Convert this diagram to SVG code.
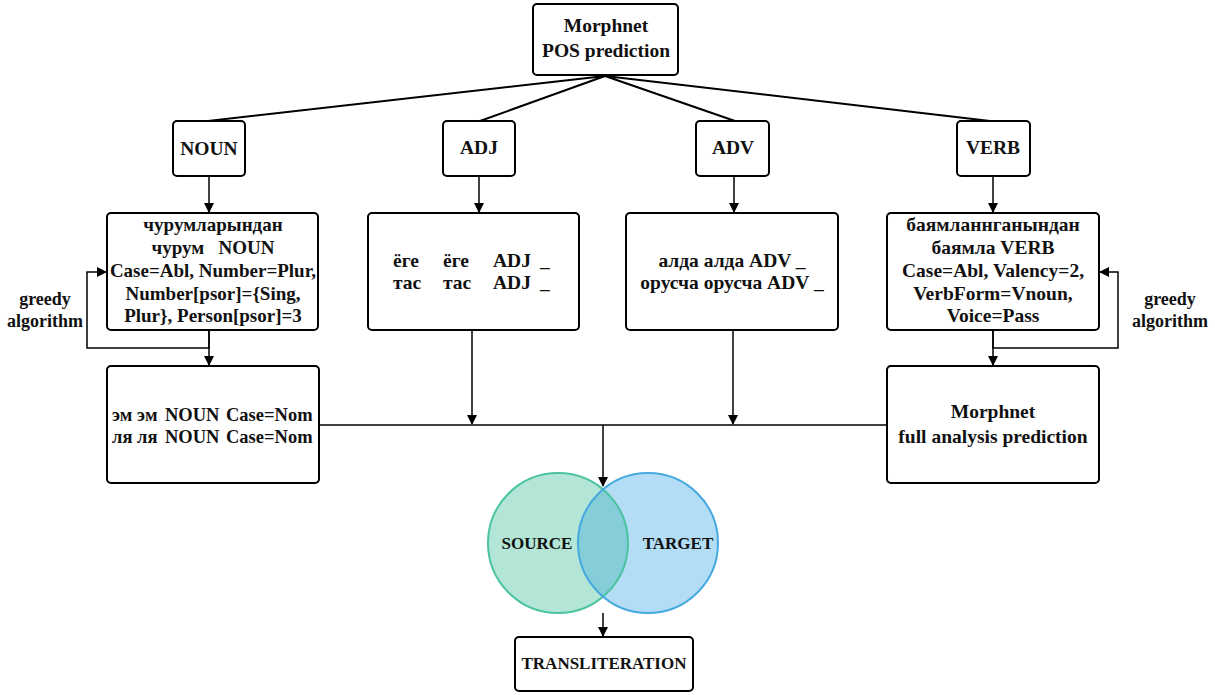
<svg xmlns="http://www.w3.org/2000/svg" width="1215" height="695" viewBox="0 0 1215 695">
<style>
.box{fill:#fff;stroke:#000;stroke-width:2}
.t{font-family:"Liberation Serif",serif;font-weight:bold;font-size:19.5px;fill:#111}
.c{text-anchor:middle}
.s{font-size:17px}
.g{font-size:18px}
.m{font-size:19px}
.n{font-size:18.5px}
.ln{fill:none;stroke:#000;stroke-width:2}
.lt{fill:none;stroke:#000;stroke-width:1.5}
</style>
<defs>
<marker id="ah" markerWidth="10" markerHeight="10" refX="9" refY="5" orient="auto" markerUnits="userSpaceOnUse">
<path d="M0,0 L10,5 L0,10 z" fill="#000"/>
</marker>
<clipPath id="srcClip"><circle cx="558" cy="543" r="70"/></clipPath>
</defs>
<rect width="1215" height="695" fill="#fff"/>

<g id="connectors">
<path class="ln" d="M605,76 L208,121 M605,76 L480,121 M605,76 L735,121 M605,76 L990,121"/>
<path class="lt" d="M209,176 V212" marker-end="url(#ah)"/>
<path class="lt" d="M479,176 V212" marker-end="url(#ah)"/>
<path class="lt" d="M734,176 V212" marker-end="url(#ah)"/>
<path class="lt" d="M993,176 V212" marker-end="url(#ah)"/>
<path class="lt" d="M209,330 V365" marker-end="url(#ah)"/>
<path class="lt" d="M209,330 V348 H87 V272 H106" marker-end="url(#ah)"/>
<path class="lt" d="M993,330 V365" marker-end="url(#ah)"/>
<path class="lt" d="M993,330 V348 H1118 V272 H1100" marker-end="url(#ah)"/>
<path class="lt" d="M319,425 H887"/>
<path class="lt" d="M472,330 V424" marker-end="url(#ah)"/>
<path class="lt" d="M733,330 V424" marker-end="url(#ah)"/>
<path class="lt" d="M603,425 V486" marker-end="url(#ah)"/>
<path class="lt" d="M603,613 V636" marker-end="url(#ah)"/>
</g>

<g id="pos">
<rect class="box" x="533" y="4" width="145" height="71" rx="4"/>
<text class="t c" x="606" y="32">Morphnet</text>
<text class="t c" x="606" y="57">POS prediction</text>
</g>

<g id="noun"><rect class="box" x="173" y="121" width="72" height="55" rx="4"/><text class="t c" x="209" y="155">NOUN</text></g>
<g id="adj"><rect class="box" x="443" y="121" width="72" height="55" rx="4"/><text class="t c" x="479" y="154">ADJ</text></g>
<g id="adv"><rect class="box" x="696" y="121" width="73" height="55" rx="4"/><text class="t c" x="733" y="154">ADV</text></g>
<g id="verb"><rect class="box" x="957" y="121" width="73" height="55" rx="4"/><text class="t c" x="993" y="154">VERB</text></g>

<g id="noun-detail">
<rect class="box" x="107" y="213" width="211" height="117" rx="4"/>
<text class="t c m" x="213" y="231">чурумларындан</text>
<text class="t c m" x="213" y="254" xml:space="preserve">чурум   NOUN</text>
<text class="t c m" x="213" y="277">Case=Abl, Number=Plur,</text>
<text class="t c m" x="213" y="300">Number[psor]={Sing,</text>
<text class="t c m" x="213" y="322">Plur}, Person[psor]=3</text>
</g>

<g id="adj-detail">
<rect class="box" x="368" y="213" width="211" height="117" rx="4"/>
<text class="t" y="267"><tspan x="393">ёге</tspan><tspan x="443">ёге</tspan><tspan x="493">ADJ</tspan><tspan x="540">_</tspan></text>
<text class="t" y="289"><tspan x="393">тас</tspan><tspan x="443">тас</tspan><tspan x="493">ADJ</tspan><tspan x="540">_</tspan></text>
</g>

<g id="adv-detail">
<rect class="box" x="626" y="213" width="212" height="117" rx="4"/>
<text class="t c" x="732" y="267">алда алда ADV _</text>
<text class="t c" x="732" y="289">орусча орусча ADV _</text>
</g>

<g id="verb-detail">
<rect class="box" x="887" y="213" width="212" height="117" rx="4"/>
<text class="t c" x="993" y="231">баямланнганындан</text>
<text class="t c" x="993" y="254">баямла VERB</text>
<text class="t c" x="993" y="277">Case=Abl, Valency=2,</text>
<text class="t c" x="993" y="300">VerbForm=Vnoun,</text>
<text class="t c" x="993" y="322">Voice=Pass</text>
</g>

<g id="greedy-left">
<text class="t c g" x="45" y="305">greedy</text>
<text class="t c g" x="45" y="327">algorithm</text>
</g>
<g id="greedy-right">
<text class="t c g" x="1170" y="305">greedy</text>
<text class="t c g" x="1170" y="327">algorithm</text>
</g>

<g id="noun-lemma">
<rect class="box" x="107" y="366" width="212" height="117" rx="4"/>
<text class="t n" y="421"><tspan x="112">эм эм</tspan><tspan x="165">NOUN</tspan><tspan x="226">Case=Nom</tspan></text>
<text class="t n" y="443"><tspan x="112">ля ля</tspan><tspan x="165">NOUN</tspan><tspan x="226">Case=Nom</tspan></text>
</g>

<g id="full-analysis">
<rect class="box" x="887" y="366" width="212" height="117" rx="4"/>
<text class="t c" x="993" y="418">Morphnet</text>
<text class="t c" x="993" y="443">full analysis prediction</text>
</g>

<g id="venn">
<circle cx="558" cy="543" r="70" fill="#b3e6d6"/>
<circle cx="648" cy="543" r="70" fill="#b3dcf5"/>
<circle cx="648" cy="543" r="70" fill="#85cdd8" clip-path="url(#srcClip)"/>
<circle cx="558" cy="543" r="70" fill="none" stroke="#4cc3a0" stroke-width="2"/>
<circle cx="648" cy="543" r="70" fill="none" stroke="#45a9e0" stroke-width="2"/>
<text class="t c s" x="537" y="549">SOURCE</text>
<text class="t c s" x="678" y="549">TARGET</text>
</g>

<g id="transliteration">
<rect class="box" x="515" y="637" width="178" height="54" rx="4"/>
<text class="t c s" x="604" y="669">TRANSLITERATION</text>
</g>
</svg>
